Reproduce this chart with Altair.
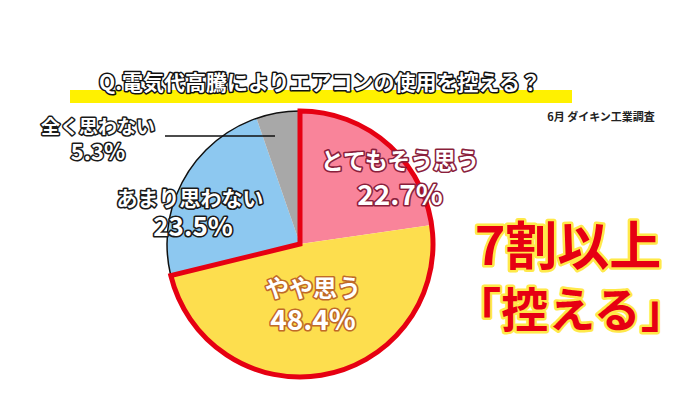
import altair as alt
import pandas as pd

# ---- data ----
categories = ["とてもそう思う", "やや思う", "あまり思わない", "全く思わない"]
values = [22.7, 48.4, 23.5, 5.3]
colors = ["#F9849A", "#FDDE4E", "#8DC8F0", "#A8A8A8"]
title_text = "Q.電気代高騰によりエアコンの使用を控える？"
source_text = "6月 ダイキン工業調査"
headline = ["7割以上", "「控える」"]
agree_cats = ["とてもそう思う", "やや思う"]

JP = "Noto Sans CJK JP"

df = pd.DataFrame({
    "category": categories,
    "value": values,
    "idx": list(range(len(categories))),
    "pct": [f"{v}%" for v in values],
})
total = round(sum(values), 6)
dummy = pd.DataFrame({"a": [0]})

CX, CY, R = 292, 236, 133
theta_scale = alt.Scale(domain=[0, total])

# pie slices
slices = alt.Chart(df).mark_arc(outerRadius=R).encode(
    theta=alt.Theta("value:Q", stack=True, scale=theta_scale),
    color=alt.Color("category:N", scale=alt.Scale(domain=categories, range=colors), legend=None),
    order=alt.Order("idx:Q"),
    x=alt.value(CX), y=alt.value(CY),
)

# thin black outline of whole pie
outline = alt.Chart(df).transform_aggregate(total="sum(value)").mark_arc(
    outerRadius=R, fillOpacity=0, stroke="#111111", strokeWidth=1.5
).encode(
    theta=alt.Theta("total:Q", stack=True, scale=theta_scale),
    x=alt.value(CX), y=alt.value(CY),
)

# red outline around the "agree" part
agree = alt.Chart(df).transform_filter(
    alt.FieldOneOfPredicate(field="category", oneOf=agree_cats)
).transform_aggregate(total="sum(value)").mark_arc(
    outerRadius=R, fillOpacity=0, stroke="#E60012", strokeWidth=5, strokeJoin="miter"
).encode(
    theta=alt.Theta("total:Q", stack=True, scale=theta_scale),
    x=alt.value(CX), y=alt.value(CY),
)


def outlined(cat, field, x, y, size, fill, edge, sw):
    base = alt.Chart(df).transform_filter(alt.datum.category == cat)
    back = base.mark_text(font=JP, fontSize=size, fontWeight="bold", fill=edge,
                          stroke=edge, strokeWidth=sw, strokeJoin="round").encode(
        text=f"{field}:N", x=alt.value(x), y=alt.value(y))
    front = base.mark_text(font=JP, fontSize=size, fontWeight="bold", fill=fill).encode(
        text=f"{field}:N", x=alt.value(x), y=alt.value(y))
    return back + front


labels = (
    outlined(categories[0], "category", 392, 154, 23, "white", "#8A1F3C", 3.2)
    + outlined(categories[0], "pct", 392, 189, 28, "white", "#8A1F3C", 3.2)
    + outlined(categories[1], "category", 305, 282, 24, "white", "#C06A28", 3.2)
    + outlined(categories[1], "pct", 305, 314, 28, "white", "#C06A28", 3.2)
    + outlined(categories[2], "category", 182, 192, 21, "white", "#1A1A1A", 3.2)
    + outlined(categories[2], "pct", 185, 220, 26, "white", "#1A1A1A", 3.2)
    + outlined(categories[3], "category", 90, 120, 19, "white", "#1A1A1A", 3)
    + outlined(categories[3], "pct", 90, 145, 22, "white", "#1A1A1A", 3)
)

leader = alt.Chart(dummy).mark_rule(color="#111111", strokeWidth=1.5).encode(
    x=alt.value(157), x2=alt.value(267), y=alt.value(128)
)

# title with yellow highlight bar
bar = alt.Chart(dummy).mark_rect(color="#FFF100").encode(
    x=alt.value(62), x2=alt.value(564), y=alt.value(82), y2=alt.value(95)
)
tdf = pd.DataFrame({"t": [title_text]})
title_back = alt.Chart(tdf).mark_text(font=JP, fontSize=21, fontWeight="bold", fill="#111111",
                                      stroke="#111111", strokeWidth=3, strokeJoin="round").encode(
    text="t:N", x=alt.value(312), y=alt.value(76))
title_front = alt.Chart(tdf).mark_text(font=JP, fontSize=21, fontWeight="bold", fill="white").encode(
    text="t:N", x=alt.value(312), y=alt.value(76))

src = alt.Chart(pd.DataFrame({"t": [source_text]})).mark_text(
    font=JP, fontSize=11, fontWeight="bold", fill="#222222"
).encode(text="t:N", x=alt.value(593), y=alt.value(110))

# headline
hdf1 = pd.DataFrame({"t": [headline[0]]})
hdf2 = pd.DataFrame({"t": [headline[1]]})


def headline_text(d, x, y, size):
    back = alt.Chart(d).mark_text(font=JP, fontSize=size, fontWeight="bold", fill="#FFE94A",
                                  stroke="#FFE94A", strokeWidth=5, strokeJoin="round").encode(
        text="t:N", x=alt.value(x), y=alt.value(y))
    front = alt.Chart(d).mark_text(font=JP, fontSize=size, fontWeight="bold", fill="#E60012").encode(
        text="t:N", x=alt.value(x), y=alt.value(y))
    return back + front


head = headline_text(hdf1, 560, 241, 52) + headline_text(hdf2, 563, 305, 47)

chart = alt.layer(
    bar, title_back, title_front, src,
    slices, outline, agree,
    leader, labels, head,
).properties(
    width=684, height=377, padding=0, autosize=alt.AutoSizeParams(type="none"),
    background="white",
).configure_view(strokeWidth=0)

chart.save("out.html", embed_options={"renderer": "svg", "actions": False})
